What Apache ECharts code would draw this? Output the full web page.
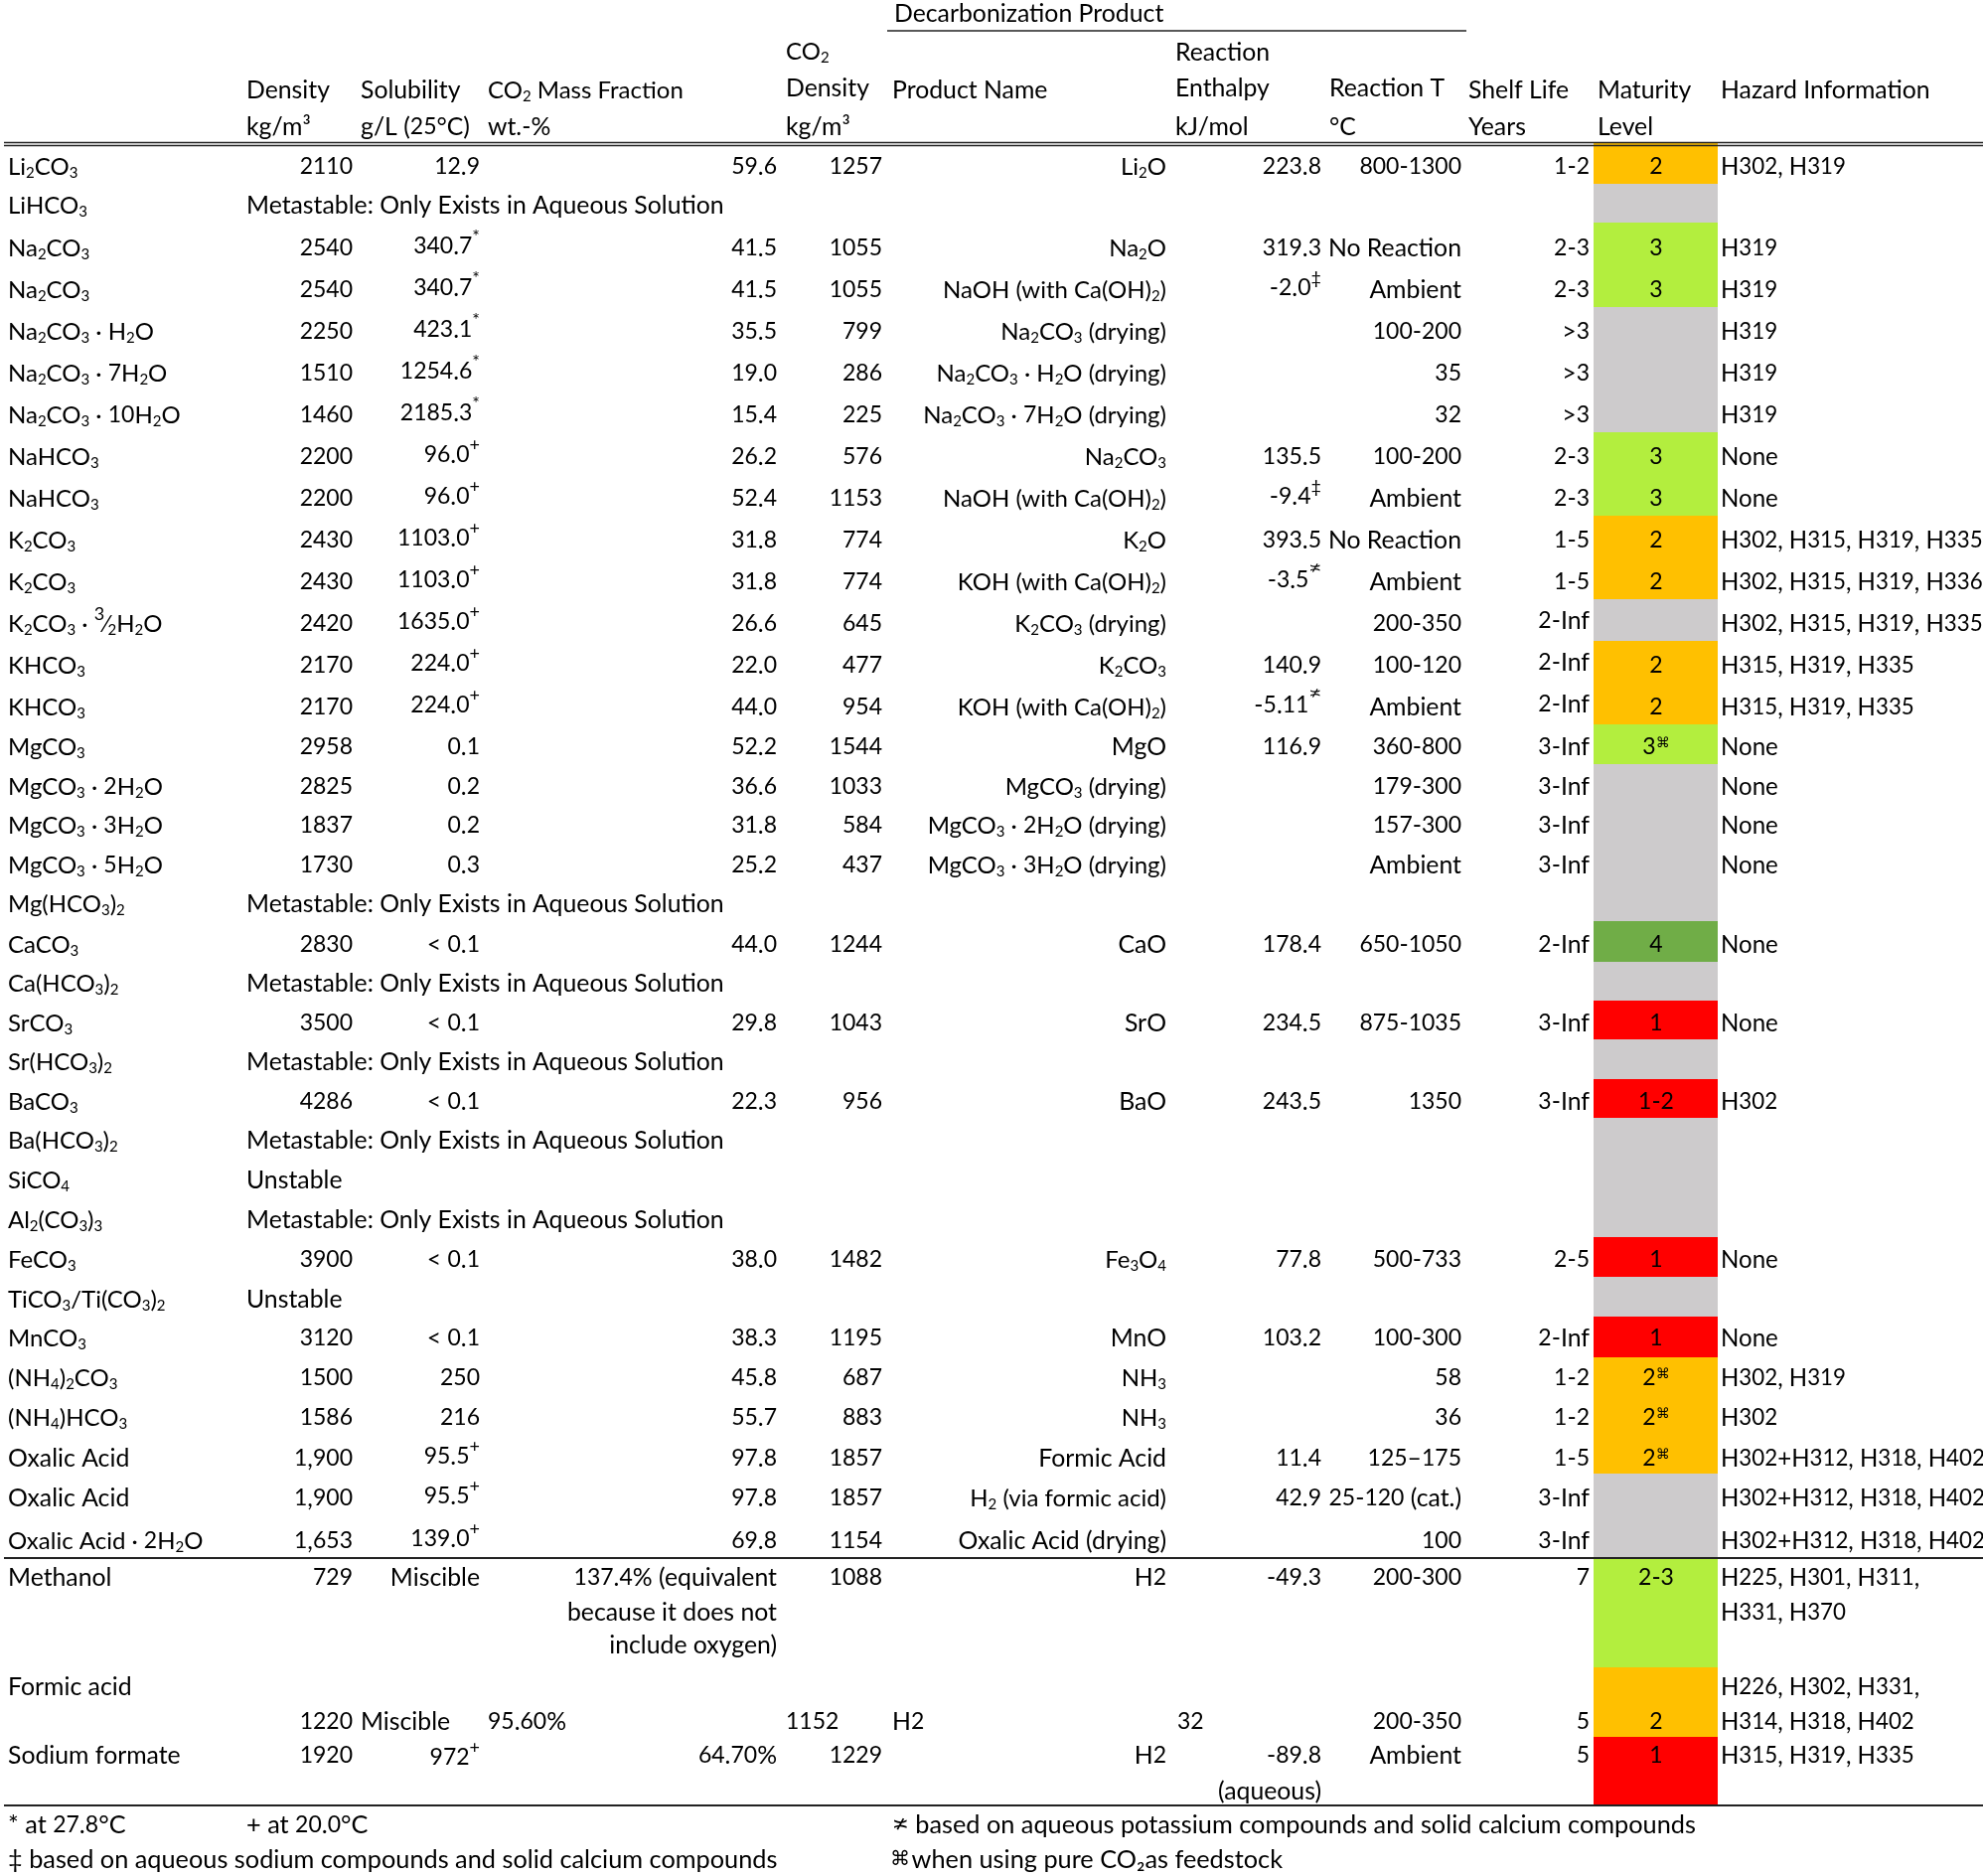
<!DOCTYPE html>
<html>
<head>
<meta charset="utf-8">
<style>html,body{margin:0;padding:0;background:#fff}#app{width:1996px;height:1888px}</style>
<script src="https://cdn.jsdelivr.net/npm/echarts@6/dist/echarts.min.js"></script>
</head>
<body>
<div id="app"></div>
<script>
// one entry per text line of the table; _x is a subscript, ^x a superscript
const compounds = ["Li_2CO_3","LiHCO_3","Na_2CO_3","Na_2CO_3","Na_2CO_3 · H_2O","Na_2CO_3 · 7H_2O","Na_2CO_3 · 10H_2O","NaHCO_3","NaHCO_3","K_2CO_3","K_2CO_3","K_2CO_3 · ^3⁄_2H_2O","KHCO_3","KHCO_3","MgCO_3","MgCO_3 · 2H_2O","MgCO_3 · 3H_2O","MgCO_3 · 5H_2O","Mg(HCO_3)_2","CaCO_3","Ca(HCO_3)_2","SrCO_3","Sr(HCO_3)_2","BaCO_3","Ba(HCO_3)_2","SiCO_4","Al_2(CO_3)_3","FeCO_3","TiCO_3/Ti(CO_3)_2","MnCO_3","(NH_4)_2CO_3","(NH_4)HCO_3","Oxalic Acid","Oxalic Acid","Oxalic Acid · 2H_2O","Methanol","","","Formic acid","","Sodium formate",""];
const density = ["2110","","2540","2540","2250","1510","1460","2200","2200","2430","2430","2420","2170","2170","2958","2825","1837","1730","","2830","","3500","","4286","","","","3900","","3120","1500","1586","1,900","1,900","1,653","729","","","","1220","1920",""];
const solubility = ["12.9","","340.7^*","340.7^*","423.1^*","1254.6^*","2185.3^*","96.0^+","96.0^+","1103.0^+","1103.0^+","1635.0^+","224.0^+","224.0^+","0.1","0.2","0.2","0.3","","< 0.1","","< 0.1","","< 0.1","","","","< 0.1","","< 0.1","250","216","95.5^+","95.5^+","139.0^+","Miscible","","","","Miscible","972^+",""];
const massFraction = ["59.6","","41.5","41.5","35.5","19.0","15.4","26.2","52.4","31.8","31.8","26.6","22.0","44.0","52.2","36.6","31.8","25.2","","44.0","","29.8","","22.3","","","","38.0","","38.3","45.8","55.7","97.8","97.8","69.8","137.4% (equivalent","because it does not","include oxygen)","","95.60%","64.70%",""];
const co2Density = ["1257","","1055","1055","799","286","225","576","1153","774","774","645","477","954","1544","1033","584","437","","1244","","1043","","956","","","","1482","","1195","687","883","1857","1857","1154","1088","","","","1152","1229",""];
const productName = ["Li_2O","","Na_2O","NaOH (with Ca(OH)_2)","Na_2CO_3 (drying)","Na_2CO_3 · H_2O (drying)","Na_2CO_3 · 7H_2O (drying)","Na_2CO_3","NaOH (with Ca(OH)_2)","K_2O","KOH (with Ca(OH)_2)","K_2CO_3 (drying)","K_2CO_3","KOH (with Ca(OH)_2)","MgO","MgCO_3 (drying)","MgCO_3 · 2H_2O (drying)","MgCO_3 · 3H_2O (drying)","","CaO","","SrO","","BaO","","","","Fe_3O_4","","MnO","NH_3","NH_3","Formic Acid","H_2 (via formic acid)","Oxalic Acid (drying)","H2","","","","H2","H2",""];
const enthalpy = ["223.8","","319.3","-2.0^‡","","","","135.5","-9.4^‡","393.5","-3.5^≭","","140.9","-5.11^≭","116.9","","","","","178.4","","234.5","","243.5","","","","77.8","","103.2","","","11.4","42.9","","-49.3","","","","32","-89.8","(aqueous)"];
const temperature = ["800-1300","","No Reaction","Ambient","100-200","35","32","100-200","Ambient","No Reaction","Ambient","200-350","100-120","Ambient","360-800","179-300","157-300","Ambient","","650-1050","","875-1035","","1350","","","","500-733","","100-300","58","36","125–175","25-120 (cat.)","100","200-300","","","","200-350","Ambient",""];
const shelfLife = ["1-2","","2-3","2-3",">3",">3",">3","2-3","2-3","1-5","1-5","2-Inf","2-Inf","2-Inf","3-Inf","3-Inf","3-Inf","3-Inf","","2-Inf","","3-Inf","","3-Inf","","","","2-5","","2-Inf","1-2","1-2","1-5","3-Inf","3-Inf","7","","","","5","5",""];
const maturity = ["2","","3","3","","","","3","3","2","2","","2","2","3^⌘","","","","","4","","1","","1-2","","","","1","","1","2^⌘","2^⌘","2^⌘","","","2-3","","","","2","1",""];
const hazard = ["H302, H319","","H319","H319","H319","H319","H319","None","None","H302, H315, H319, H335","H302, H315, H319, H336","H302, H315, H319, H335","H315, H319, H335","H315, H319, H335","None","None","None","None","","None","","None","","H302","","","","None","","None","H302, H319","H302","H302+H312, H318, H402","H302+H312, H318, H402","H302+H312, H318, H402","H225, H301, H311,","H331, H370","","H226, H302, H331,","H314, H318, H402","H315, H319, H335",""];
const metastableLines = [1,18,20,22,24,26];
const unstableLines = [25,28];
const metastableNote = "Metastable: Only Exists in Aqueous Solution";

// maturity band per table row: colour key (0 = not rated) and how many text lines it covers
const maturityColours = {0:"#cdcbcc",1:"#ff0000",2:"#ffc000",3:"#b3ee3e",4:"#70ad47"};
const maturityBands = [[2,1],[0,1],[3,2],[0,3],[3,2],[2,2],[0,1],[2,2],[3,1],[0,4],[4,1],[0,1],[1,1],[0,1],[1,1],[0,3],[1,1],[0,1],[1,1],[2,3],[0,2],[3,3],[2,2],[1,2]];

// layout, in pixels of the axes below
const lineEdges = [144,185,224,267,309,351,393,435,477,519,561,603,645,687,729,769,808,847,887,927,968,1007,1046,1086,1125,1165,1205,1245,1285,1325,1366,1405,1444,1483,1525,1568,1604,1640,1678,1714,1748,1784,1817];
const TEXT_ABOVE_EDGE = 17;
const lineNudge = {15:1,16:1,17:1,21:1,23:1,29:-2,30:-1,32:2,35:1,37:-5,38:1,39:2,41:3};
const columns = {name:[8,"left"],density:[355,"right"],solubility:[483,"right"],massFraction:[782,"right"],co2Density:[888,"right"],product:[1174,"right"],enthalpy:[1330,"right"],temperature:[1471,"right"],shelf:[1600,"right"],maturity:[1667,"center"],hazard:[1732,"left"]};
const BAND_LEFT = 1604, BAND_RIGHT = 1729;
const HAZARD_SCALE = 0.97;
// the Formic acid line is left aligned in these columns
const leftAlignedLine = 39;
const leftAlignedX = {solubility:363,massFraction:491,co2Density:791,product:898,enthalpy:1185};
const raisedShelfLines = [11,12,13];
const loweredSupLines = [40];

const headerCells = [
  ["Decarbonization Product",900,14],
  ["CO_2",791,52],["Reaction",1183,53],
  ["Density",248,91],["Solubility",363,91],["CO_2 Mass Fraction",491,91],["Density",791,89],["Product Name",898,91],["Enthalpy",1183,89],["Reaction T",1338,89],["Shelf Life",1478,91],["Maturity",1608,91],["Hazard Information",1732,91],
  ["kg/m³",248,128],["g/L (25°C)",363,128],["wt.-%",491,128],["kg/m³",791,128],["kJ/mol",1183,128],["°C",1338,128],["Years",1478,128],["Level",1608,128]
];
const footnotes = [
  ["* at 27.8°C",8,1837],["+ at 20.0°C",248,1837],["≭ based on aqueous potassium compounds and solid calcium compounds",898,1837],
  ["‡ based on aqueous sodium compounds and solid calcium compounds",8,1872],["⌘\u200Awhen using pure CO₂as feedstock",896,1872]
];
const rules = [[893,1476,31,1.5],[4,1996,143.5,1.5],[4,1996,146.5,1.5],[4,1996,1568,1.8],[4,1996,1817,1.8]];

const FONT = "Lato";
const TEXT_COLOR = "#000";
const baseRun = size => ({fontFamily:FONT,fontSize:size,lineHeight:40,color:TEXT_COLOR,verticalAlign:"middle"});
// height, not lineHeight, sets how far a top/bottom aligned run sits from the line edge
const rich = {
  b:baseRun(24.8),   // ordinary words
  f:baseRun(24),     // words in a chemical formula
  n:baseRun(25.3),   // footnotes
  d:baseRun(23),     // digits, Lato's are wide
  sub:{fontFamily:FONT,fontSize:15,height:27,lineHeight:27,color:TEXT_COLOR,verticalAlign:"bottom"},
  sup:{fontFamily:FONT,fontSize:18,height:20,lineHeight:20,color:TEXT_COLOR,verticalAlign:"top"},
  cmd:{fontFamily:"DejaVu Sans",fontSize:14,height:32,lineHeight:32,color:"#333",verticalAlign:"top"},
  neq:{fontFamily:"DejaVu Sans",fontSize:15,height:16,lineHeight:16,color:TEXT_COLOR,verticalAlign:"top"},
  nsym:{fontFamily:"DejaVu Sans",fontSize:20,lineHeight:40,color:TEXT_COLOR,verticalAlign:"middle"}
};

function plainTokens(str, wordStyle) {
  return str.split(/(\d+)/).filter(Boolean).map(s => /^\d/.test(s) ? `{d|${s}}` : `{${wordStyle}|${s}}`).join("");
}

// "Li_2O" -> "{f|Li}{sub|2}{f|O}"
function toRich(str, wordStyle) {
  const style = wordStyle || (str.includes("_") ? "f" : "b");
  let out = "", buf = "";
  const flush = () => { if (buf) out += plainTokens(buf, style); buf = ""; };
  for (let i = 0; i < str.length; i++) {
    const c = str[i];
    if ((c === "_" || c === "^") && i + 1 < str.length) {
      flush();
      const next = str[++i];
      if (next === "⌘") out += `{cmd|${next}}`;
      else if (next === "≭") out += `{neq|${next}}`;
      else out += `{${c === "_" ? "sub" : "sup"}|${next}}`;
    } else if (c === "⌘" || c === "≭") {
      flush();
      out += `{nsym|${c}}`;
    } else buf += c;
  }
  flush();
  return out;
}

function lineCentre(i) { return lineEdges[i + 1] - TEXT_ABOVE_EDGE + (lineNudge[i] || 0); }

function buildTextData() {
  const data = [];
  const add = (text, x, y, align, scale, wordStyle) => { if (text) data.push([x, y, toRich(text, wordStyle), align, scale || 1]); };
  const cols = [[compounds,"name"],[density,"density"],[solubility,"solubility"],[massFraction,"massFraction"],[co2Density,"co2Density"],[productName,"product"],[enthalpy,"enthalpy"],[temperature,"temperature"],[shelfLife,"shelf"],[maturity,"maturity"],[hazard,"hazard"]];
  cols.forEach(([values, key]) => {
    values.forEach((v, i) => {
      const leftX = i === leftAlignedLine ? leftAlignedX[key] : undefined;
      let dy = 0;
      if (key === "shelf" && raisedShelfLines.includes(i)) dy = -3;
      if ((key === "solubility" || key === "enthalpy") && v.includes("^")) dy = loweredSupLines.includes(i) ? 2 : -2;
      add(v, leftX !== undefined ? leftX : columns[key][0], lineCentre(i) + dy, leftX !== undefined ? "left" : columns[key][1], key === "hazard" ? HAZARD_SCALE : 1);
    });
  });
  metastableLines.forEach(i => add(metastableNote, 248, lineCentre(i), "left"));
  unstableLines.forEach(i => add("Unstable", 248, lineCentre(i), "left"));
  headerCells.forEach(c => add(c[0], c[1], c[2], "left"));
  footnotes.forEach(c => add(c[0], c[1], c[2], "left", 1, "n"));
  return data;
}

function buildBandData() {
  let line = 0;
  return maturityBands.map(([key, count]) => {
    const row = [lineEdges[line], lineEdges[line + count], key];
    line += count;
    return row;
  });
}

const textCells = buildTextData();
const chart = echarts.init(document.getElementById("app"));
chart.setOption({
  backgroundColor:"#fff",
  animation:false,
  grid:{left:0,right:0,top:0,bottom:0},
  xAxis:{type:"value",min:0,max:1996,show:false},
  yAxis:{type:"value",min:0,max:1888,inverse:true,show:false},
  series:[
    {
      type:"custom",
      silent:true,
      z:1,
      data:buildBandData(),
      encode:{y:[0,1]},
      renderItem(params, api) {
        const a = api.coord([BAND_LEFT, api.value(0)]);
        const b = api.coord([BAND_RIGHT, api.value(1)]);
        return {type:"rect",shape:{x:a[0],y:a[1],width:b[0]-a[0],height:b[1]-a[1]},style:{fill:maturityColours[api.value(2)]}};
      }
    },
    {
      type:"custom",
      silent:true,
      z:2,
      data:rules,
      encode:{x:[0,1],y:2},
      renderItem(params, api) {
        const a = api.coord([api.value(0), api.value(2)]);
        const b = api.coord([api.value(1), api.value(2)]);
        return {type:"line",shape:{x1:a[0],y1:a[1],x2:b[0],y2:b[1]},style:{stroke:"#222",lineWidth:api.value(3)}};
      }
    },
    {
      type:"custom",
      silent:true,
      z:3,
      data:textCells.map(c => [c[0], c[1]]),
      encode:{x:0,y:1},
      renderItem(params, api) {
        const c = textCells[params.dataIndex];
        const p = api.coord([api.value(0), api.value(1)]);
        return {type:"text",x:p[0],y:p[1],scaleX:c[4],style:{x:0,y:0,text:c[2],rich,align:c[3],textAlign:c[3],verticalAlign:"middle",textVerticalAlign:"middle"}};
      }
    }
  ]
});
</script>
</body>
</html>
